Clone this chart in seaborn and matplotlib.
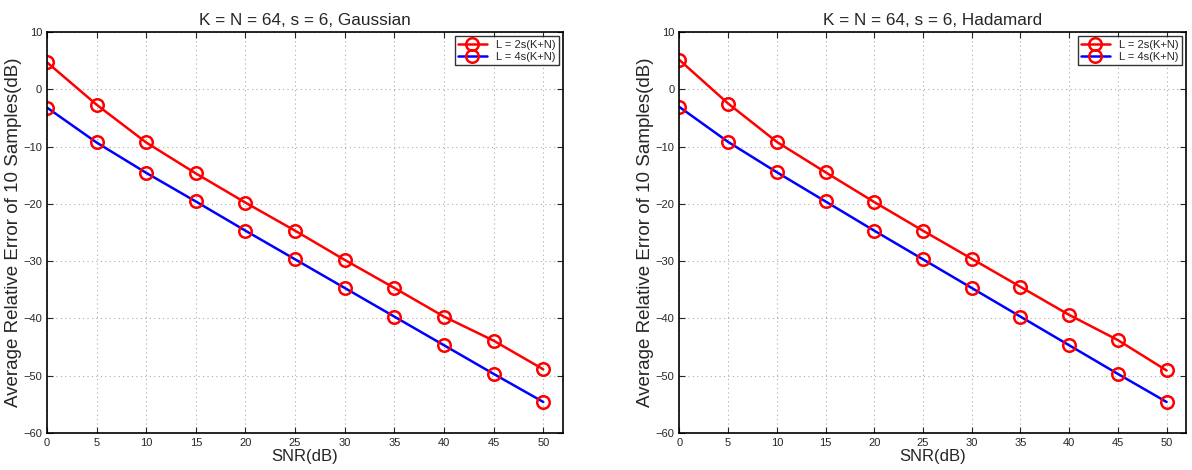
import matplotlib
matplotlib.use("Agg")
import matplotlib.pyplot as plt
import seaborn as sns

snr = [0, 5, 10, 15, 20, 25, 30, 35, 40, 45, 50]

gauss_2s = [4.7, -2.7, -9.3, -14.7, -19.8, -24.7, -29.8, -34.7, -39.7, -43.9, -48.9]
gauss_4s = [-3.2, -9.3, -14.6, -19.6, -24.7, -29.7, -34.7, -39.7, -44.7, -49.7, -54.6]
hada_2s = [5.1, -2.5, -9.2, -14.5, -19.7, -24.7, -29.6, -34.5, -39.4, -43.8, -49.1]
hada_4s = [-3.1, -9.2, -14.5, -19.6, -24.7, -29.7, -34.7, -39.7, -44.7, -49.7, -54.6]

labels = ["L = 2s(K+N)", "L = 4s(K+N)"]
titles = ["K = N = 64, s = 6, Gaussian", "K = N = 64, s = 6, Hadamard"]

sns.set_style("ticks")
plt.rcParams['font.family'] = ['Liberation Sans', 'DejaVu Sans']

fig = plt.figure(figsize=(11.92, 4.70), dpi=100)
axes = [fig.add_axes([0.0394, 0.079, 0.433, 0.853]),
        fig.add_axes([0.570, 0.079, 0.425, 0.853])]

for ax, title, (r, b) in zip(axes, titles, [(gauss_2s, gauss_4s), (hada_2s, hada_4s)]):
    for vals, col, lab in [(r, "red", labels[0]), (b, "blue", labels[1])]:
        sns.lineplot(x=snr, y=vals, ax=ax, color=col, lw=1.8, label=lab,
                     marker="o", markersize=9, markerfacecolor="none",
                     markeredgecolor="red", markeredgewidth=1.8)
    ax.set_xlim(0, 52)
    ax.set_ylim(-60, 10)
    ax.set_xticks(range(0, 51, 5))
    ax.set_yticks(range(-60, 11, 10))
    ax.tick_params(direction="in", labelsize=8, top=True, right=True, length=4)
    ax.grid(True, linestyle=(0, (1, 3)), color="#aaaaaa", lw=0.8)
    for s in ax.spines.values():
        s.set_linewidth(1.2)
        s.set_color("black")
    ax.set_title(title, fontsize=12.3, pad=5)
    ax.set_xlabel("SNR(dB)", fontsize=12, labelpad=1)
    ax.set_ylabel("Average Relative Error of 10 Samples(dB)", fontsize=13.5, labelpad=1)
    leg = ax.legend(loc="upper right", fontsize=8, frameon=True, fancybox=False,
                    edgecolor="black", handlelength=2.6, borderpad=0.3,
                    labelspacing=0.2, borderaxespad=0.4, numpoints=1)
    leg.get_frame().set_linewidth(1.0)

fig.savefig("out.png", dpi=100)
